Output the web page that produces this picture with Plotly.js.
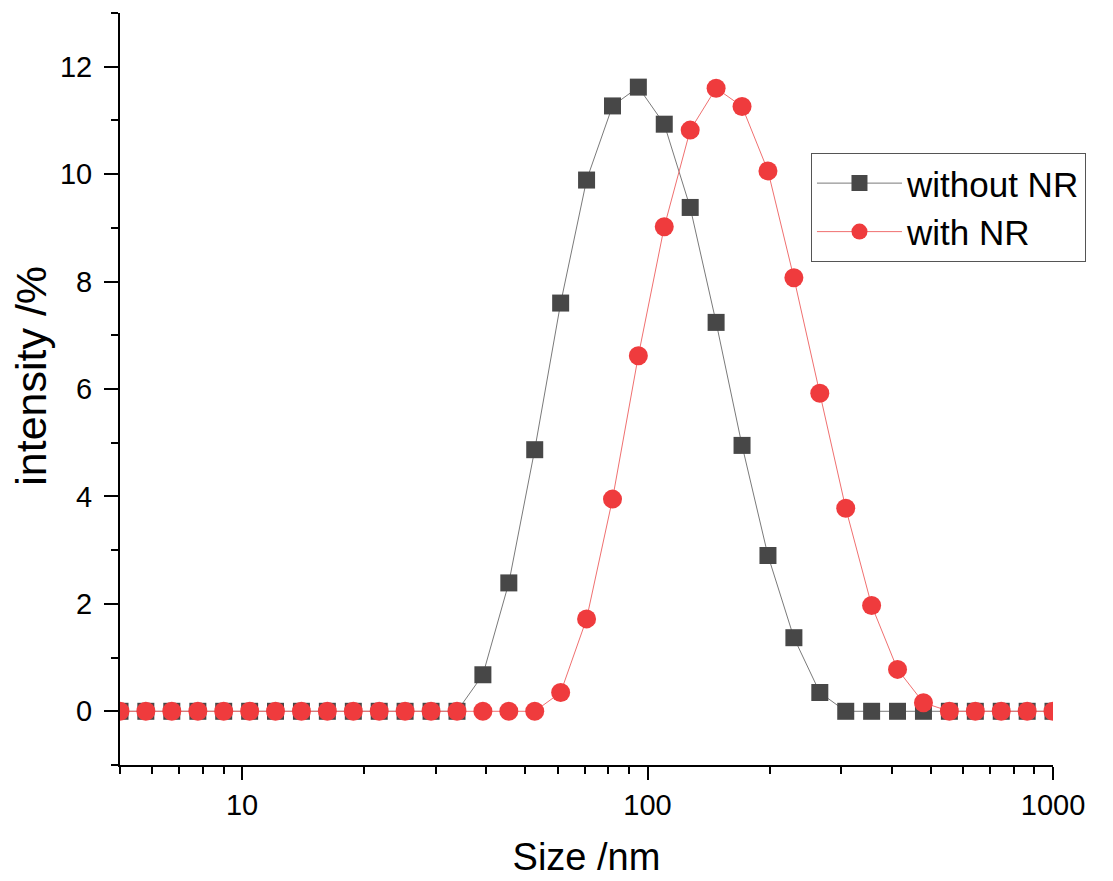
<!DOCTYPE html>
<html>
<head>
<meta charset="utf-8">
<script src="https://cdn.plot.ly/plotly-3.0.1.min.js"></script>
<style>html,body{margin:0;padding:0;background:#fff;}#chart{width:1113px;height:881px;}</style>
</head>
<body>
<div id="chart"></div>
<script>
// Size bins (nm)
const sizeNm = [5.00, 5.79, 6.71, 7.78, 9.01, 10.44, 12.09, 14.01, 16.23, 18.81,
  21.79, 25.24, 29.25, 33.89, 39.26, 45.49, 52.70, 61.06, 70.74, 81.96,
  94.92, 109.97, 127.42, 147.62, 171.04, 198.16, 229.59, 266.0, 308.2, 357.0,
  413.6, 479.2, 555.2, 643.3, 745.3, 863.5, 1000];

const withoutNR = [0, 0, 0, 0, 0, 0, 0, 0, 0, 0,
  0, 0, 0, 0, 0.68, 2.39, 4.87, 7.60, 9.89, 11.27,
  11.62, 10.93, 9.38, 7.24, 4.95, 2.90, 1.37, 0.35, 0, 0,
  0, 0, 0, 0, 0, 0, 0];

const withNR = [0, 0, 0, 0, 0, 0, 0, 0, 0, 0,
  0, 0, 0, 0, 0, 0, 0, 0.35, 1.72, 3.95,
  6.62, 9.02, 10.82, 11.60, 11.26, 10.06, 8.07, 5.92, 3.78, 1.97,
  0.78, 0.16, 0, 0, 0, 0, 0];

const seriesNames = ["without NR", "with NR"];
const xMajorTicks = [10, 100, 1000];
const xTickText = ["10", "100", "1000"];
const xMinorTicks = [5, 6, 7, 8, 9, 20, 30, 40, 50, 60, 70, 80, 90, 200, 300, 400, 500, 600, 700, 800, 900];
const yTicks = [0, 2, 4, 6, 8, 10, 12];
const xTitle = "Size /nm";
const yTitle = "intensity /%";

const FONT = "Liberation Sans, Arial, sans-serif";

const traces = [
  {
    x: sizeNm, y: withoutNR, name: seriesNames[0], type: "scatter", mode: "lines+markers",
    line: {color: "#7a7a7a", width: 1},
    marker: {symbol: "square", size: 17, color: "#474747"}
  },
  {
    x: sizeNm, y: withNR, name: seriesNames[1], type: "scatter", mode: "lines+markers",
    line: {color: "#f07070", width: 1},
    marker: {symbol: "circle", size: 19, color: "#ef3b3d"}
  }
];

const layout = {
  width: 1113, height: 881,
  margin: {l: 120, r: 60, t: 13, b: 116},
  paper_bgcolor: "#fff", plot_bgcolor: "#fff",
  font: {family: FONT, color: "#000"},
  showlegend: true,
  legend: {
    x: 0.7406, y: 0.814, xanchor: "left", yanchor: "top",
    bgcolor: "#fff", bordercolor: "#555", borderwidth: 1,
    font: {family: FONT, size: 35, color: "#000"},
    tracegroupgap: 0, itemwidth: 85
  },
  xaxis: {
    type: "log",
    range: [Math.log10(5), Math.log10(1000)],
    showgrid: false, zeroline: false,
    showline: true, linecolor: "#000", linewidth: 2,
    ticks: "outside", ticklen: 13, tickwidth: 2, tickcolor: "#000",
    tickmode: "array", tickvals: xMajorTicks, ticktext: xTickText,
    tickfont: {family: FONT, size: 29, color: "#000"},
    minor: {tickmode: "array", tickvals: xMinorTicks, ticks: "outside", ticklen: 7, tickwidth: 2, tickcolor: "#000", showgrid: false},
    title: {text: xTitle, font: {family: FONT, size: 38, color: "#000"}, standoff: 24}
  },
  yaxis: {
    range: [-1, 13],
    showgrid: false, zeroline: false,
    showline: true, linecolor: "#000", linewidth: 2,
    ticks: "outside", ticklen: 14, tickwidth: 2, tickcolor: "#000",
    tickmode: "array", tickvals: yTicks,
    tickfont: {family: FONT, size: 29, color: "#000"},
    ticklabelstandoff: 6,
    minor: {dtick: 1, tick0: 0, ticks: "outside", ticklen: 7, tickwidth: 2, tickcolor: "#000", showgrid: false}
  },
  annotations: [{
    text: yTitle, xref: "paper", yref: "paper", x: 0, y: 0.5176,
    xshift: -89, xanchor: "center", yanchor: "middle", textangle: -90,
    showarrow: false, font: {family: FONT, size: 43, color: "#000"}
  }]
};

Plotly.newPlot("chart", traces, layout, {displayModeBar: false, staticPlot: true});
</script>
</body>
</html>
